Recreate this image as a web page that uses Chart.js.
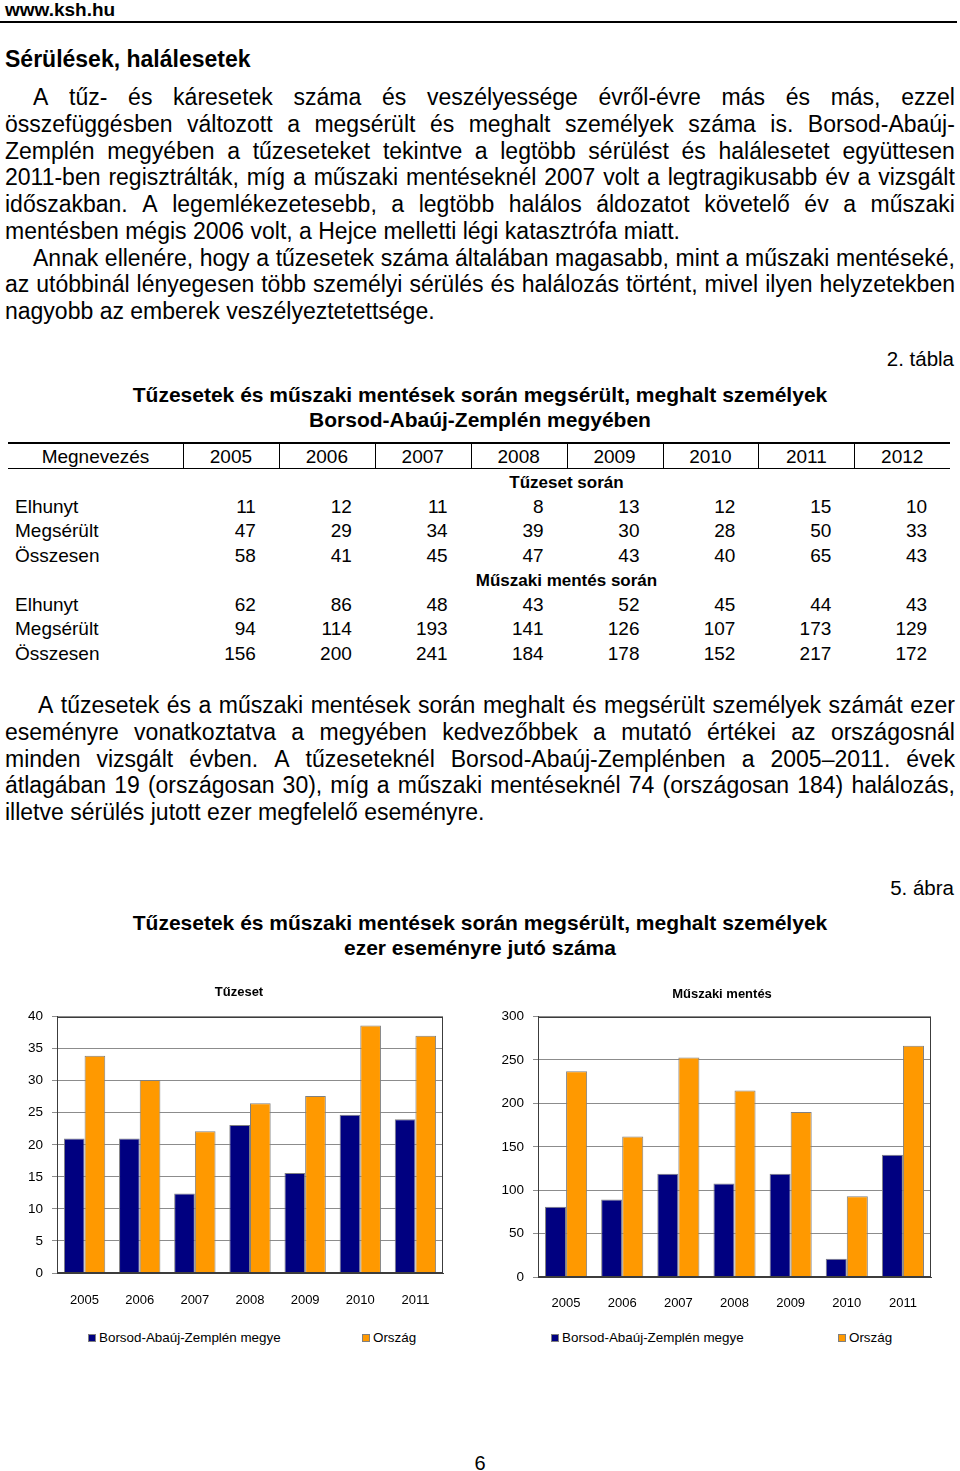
<!DOCTYPE html>
<html lang="hu"><head><meta charset="utf-8">
<script src="https://cdn.jsdelivr.net/npm/chart.js@4.4.0/dist/chart.umd.min.js"></script>
<style>
html,body{margin:0;padding:0;background:#fff;}
body{width:960px;height:1471px;position:relative;overflow:hidden;font-family:"Liberation Sans",Arial,sans-serif;color:#000;}
.abs{position:absolute;white-space:nowrap;}
.para{position:absolute;left:5px;width:950px;font-size:23px;}
.jl{display:flex;justify-content:space-between;white-space:nowrap;}
.ll{white-space:nowrap;}
.rule{position:absolute;background:#000;}
canvas{position:absolute;}
.lg{position:absolute;top:1330px;height:16px;font-size:13.4px;line-height:16px;white-space:nowrap;}
.lgbox{position:absolute;top:4px;left:0;width:8px;height:8px;box-sizing:border-box;border:1px solid #808080;}
.lgtxt{position:absolute;top:0;}
</style>
</head><body>
<div class="abs" style="left:5px;top:0;font-size:19px;line-height:19px;font-weight:bold;">www.ksh.hu</div>
<div class="rule" style="left:0;top:21px;width:957px;height:2px;"></div>
<div class="abs" style="left:5px;top:46px;font-size:23px;line-height:26px;font-weight:bold;">Sérülések, halálesetek</div>
<div id="p1" class="para" style="top:84px;"></div>
<div class="abs" style="right:6px;top:346px;font-size:20.5px;line-height:26px;">2. tábla</div>
<div class="abs" style="left:0;width:960px;top:382px;font-size:21px;line-height:25px;font-weight:bold;text-align:center;">Tűzesetek és műszaki mentések során megsérült, meghalt személyek<br>Borsod-Abaúj-Zemplén megyében</div>
<div id="tbl"></div>
<div id="p3" class="para" style="top:692px;"></div>
<div class="abs" style="right:6px;top:875px;font-size:20.5px;line-height:26px;">5. ábra</div>
<div class="abs" style="left:0;width:960px;top:910px;font-size:21px;line-height:25px;font-weight:bold;text-align:center;">Tűzesetek és műszaki mentések során megsérült, meghalt személyek<br>ezer eseményre jutó száma</div>
<canvas id="c1" width="480" height="340" style="left:0;top:975px;"></canvas>
<canvas id="c2" width="480" height="344" style="left:480px;top:975px;"></canvas>
<div id="lg1"></div>
<div id="lg2"></div>
<div class="abs" style="left:0;width:960px;top:1450px;font-size:20px;line-height:26px;text-align:center;">6</div>
<script>
// ---- Chart data (per 1000 events) ----
const chartYears = ['2005','2006','2007','2008','2009','2010','2011'];
const tuzMegye   = [21.0, 21.0, 12.4, 23.1, 15.6, 24.7, 24.0];
const tuzOrszag  = [33.9, 30.1, 22.1, 26.5, 27.6, 38.6, 37.0];
const muszMegye  = [80.8, 89.2, 119.0, 107.7, 119.0, 21.0, 140.8];
const muszOrszag = [237, 162, 253, 215, 190, 93, 266.5];
const seriesNames = ['Borsod-Abaúj-Zemplén megye', 'Ország'];
const chartTitles = ['Tűzeset', 'Műszaki mentés'];

// ---- Table data ----
const tableYears = ['2005','2006','2007','2008','2009','2010','2011','2012'];
const rowLabels = ['Elhunyt','Megsérült','Összesen'];
const tuzElhunyt   = [11,12,11,8,13,12,15,10];
const tuzMegserult = [47,29,34,39,30,28,50,33];
const tuzOsszesen  = [58,41,45,47,43,40,65,43];
const muszElhunyt   = [62,86,48,43,52,45,44,43];
const muszMegserult = [94,114,193,141,126,107,173,129];
const muszOsszesen  = [156,200,241,184,178,152,217,172];

// ---- Text ----
const p1Lines = [
 ['A tűz- és káresetek száma és veszélyessége évről-évre más és más, ezzel', true, 28],
 ['összefüggésben változott a megsérült és meghalt személyek száma is. Borsod-Abaúj-', true, 0],
 ['Zemplén megyében a tűzeseteket tekintve a legtöbb sérülést és halálesetet együttesen', true, 0],
 ['2011-ben regisztrálták, míg a műszaki mentéseknél 2007 volt a legtragikusabb év a vizsgált', true, 0],
 ['időszakban. A legemlékezetesebb, a legtöbb halálos áldozatot követelő év a műszaki', true, 0],
 ['mentésben mégis 2006 volt, a Hejce melletti légi katasztrófa miatt.', false, 0],
 ['Annak ellenére, hogy a tűzesetek száma általában magasabb, mint a műszaki mentéseké,', true, 28],
 ['az utóbbinál lényegesen több személyi sérülés és halálozás történt, mivel ilyen helyzetekben', true, 0],
 ['nagyobb az emberek veszélyeztetettsége.', false, 0]
];
const p3Lines = [
 ['A tűzesetek és a műszaki mentések során meghalt és megsérült személyek számát ezer', true, 33],
 ['eseményre vonatkoztatva a megyében kedvezőbbek a mutató értékei az országosnál', true, 0],
 ['minden vizsgált évben. A tűzeseteknél Borsod-Abaúj-Zemplénben a 2005–2011. évek', true, 0],
 ['átlagában 19 (országosan 30), míg a műszaki mentéseknél 74 (országosan 184) halálozás,', true, 0],
 ['illetve sérülés jutott ezer megfelelő eseményre.', false, 0]
];
const LH = 26.75;
function buildPara(id, lines){
  const host = document.getElementById(id);
  lines.forEach(([t, just, ind])=>{
    const d = document.createElement('div');
    d.style.height = LH+'px'; d.style.lineHeight = LH+'px';
    d.style.paddingLeft = ind+'px';
    if (just){
      d.className='jl';
      t.split(' ').forEach(w=>{const s=document.createElement('span'); s.textContent=w; d.appendChild(s);});
    } else { d.className='ll'; d.textContent=t; }
    host.appendChild(d);
  });
}
buildPara('p1', p1Lines);
buildPara('p3', p3Lines);

// ---- Table ----
(function(){
  const T = document.getElementById('tbl');
  function txt(s, x, yc, opts){
    const d=document.createElement('div'); d.className='abs'; d.textContent=s;
    const fs = opts.fs||19;
    d.style.fontSize=fs+'px'; d.style.lineHeight='24px'; d.style.top=(yc-12)+'px';
    if (opts.bold) d.style.fontWeight='bold';
    if (opts.align==='center'){ d.style.left=(x-100)+'px'; d.style.width='200px'; d.style.textAlign='center'; }
    else if (opts.align==='right'){ d.style.left=(x-100)+'px'; d.style.width='100px'; d.style.textAlign='right'; }
    else d.style.left=x+'px';
    T.appendChild(d);
  }
  function rule(x,y,w,h){const d=document.createElement('div'); d.className='rule'; Object.assign(d.style,{left:x+'px',top:y+'px',width:w+'px',height:h+'px'}); T.appendChild(d);}
  rule(8,442,942,2); rule(8,468,942,1);
  const colL=183, colW=95.9;
  for(let k=0;k<8;k++) rule(Math.round(colL+colW*k),443,1,25);
  txt('Megnevezés', 95.5, 457, {align:'center'});
  tableYears.forEach((y,k)=>txt(y, colL+colW*(k+0.5), 457, {align:'center'}));
  const blocks = [
    ['Tűzeset során', 483, [tuzElhunyt,tuzMegserult,tuzOsszesen], [507,531,556]],
    ['Műszaki mentés során', 581, [muszElhunyt,muszMegserult,muszOsszesen], [605,629,654]]
  ];
  blocks.forEach(([h,hy,rows,ys])=>{
    txt(h, (colL+950)/2, hy, {align:'center', bold:true, fs:17});
    rows.forEach((vals,r)=>{
      txt(rowLabels[r], 15, ys[r], {});
      vals.forEach((v,k)=>txt(String(v), colL+colW*(k+1)-23, ys[r], {align:'right'}));
    });
  });
})();

// ---- Charts ----
const FAM = "'Liberation Sans', Arial, sans-serif";
const NAVY='#000080', ORANGE='#FF9900', EDGE='#808080', GRID='#8c8c8c', FRAME='#3c3c3c';

const framePlugin = {id:'frame', afterDatasetsDraw(chart){
  const {ctx, chartArea:a} = chart; ctx.save(); ctx.strokeStyle=FRAME; ctx.lineWidth=1;
  ctx.strokeRect(Math.round(a.left)+0.5, Math.round(a.top)+0.5, Math.round(a.right)-Math.round(a.left)-1, Math.round(a.bottom)-Math.round(a.top)-1);
  ctx.restore();}};

// HTML legend built from the chart's own legend items
const htmlLegend = {id:'htmlLegend', afterUpdate(chart, args, opts){
  const host = document.getElementById(opts.containerID); host.innerHTML='';
  const items = chart.options.plugins.legend.labels.generateLabels(chart);
  items.forEach((it,i)=>{
    const wrap=document.createElement('div'); wrap.className='lg'; wrap.style.left=opts.xs[i]+'px';
    const b=document.createElement('span'); b.className='lgbox'; b.style.background=it.fillStyle; b.style.borderColor=it.strokeStyle;
    const t=document.createElement('span'); t.className='lgtxt'; t.style.left=opts.gap+'px'; t.textContent=it.text;
    wrap.appendChild(b); wrap.appendChild(t); host.appendChild(wrap);
  });
}};

function makeChart(id, title, dataA, dataB, o){
  return new Chart(document.getElementById(id), {
    type:'bar',
    data:{labels:chartYears, datasets:[
      {label:seriesNames[0], data:dataA, backgroundColor:NAVY, borderColor:EDGE, borderWidth:1, categoryPercentage:0.75, barPercentage:1},
      {label:seriesNames[1], data:dataB, backgroundColor:ORANGE, borderColor:EDGE, borderWidth:1, categoryPercentage:0.75, barPercentage:1}
    ]},
    options:{
      responsive:false, animation:false, devicePixelRatio:1,
      layout:{padding:o.pad},
      plugins:{
        title:{display:true, text:title, color:'#000', font:{family:FAM, size:13, weight:'bold'}, padding:o.titlePad},
        legend:{display:false},
        htmlLegend:{containerID:o.lg, xs:o.lgX, gap:11},
        tooltip:{enabled:false}
      },
      scales:{
        x:{grid:{display:false, drawTicks:false}, border:{display:true, color:FRAME},
           ticks:{color:'#000', font:{family:FAM, size:13}, padding:o.xPad, maxRotation:0, autoSkip:false},
           afterFit(s){ s.height = 40; }},
        y:{min:0, max:o.max, grid:{color:GRID, tickLength:5, drawTicks:true}, border:{display:true, color:FRAME},
           ticks:{stepSize:o.step, color:'#000', font:{family:FAM, size:13.5}, padding:9},
           afterFit(s){ s.width = o.yW; }},
        yPad:{position:'right', display:true, grid:{display:false, drawTicks:false}, border:{display:false},
           ticks:{display:false}, afterFit(s){ s.width = o.rW; }}
      }
    },
    plugins:[framePlugin, htmlLegend]
  });
}
makeChart('c1', chartTitles[0], tuzMegye, tuzOrszag,
  {pad:{left:20,right:22,top:0,bottom:2}, titlePad:{top:10,bottom:16}, xPad:20, max:40, step:5, yW:37, rW:15,
   lg:'lg1', lgX:[88,362]});
makeChart('c2', chartTitles[1], muszMegye, muszOrszag,
  {pad:{left:18,right:14,top:0,bottom:2}, titlePad:{top:12,bottom:14}, xPad:19, max:300, step:50, yW:40, rW:15,
   lg:'lg2', lgX:[551,838]});
</script>
</body></html>
